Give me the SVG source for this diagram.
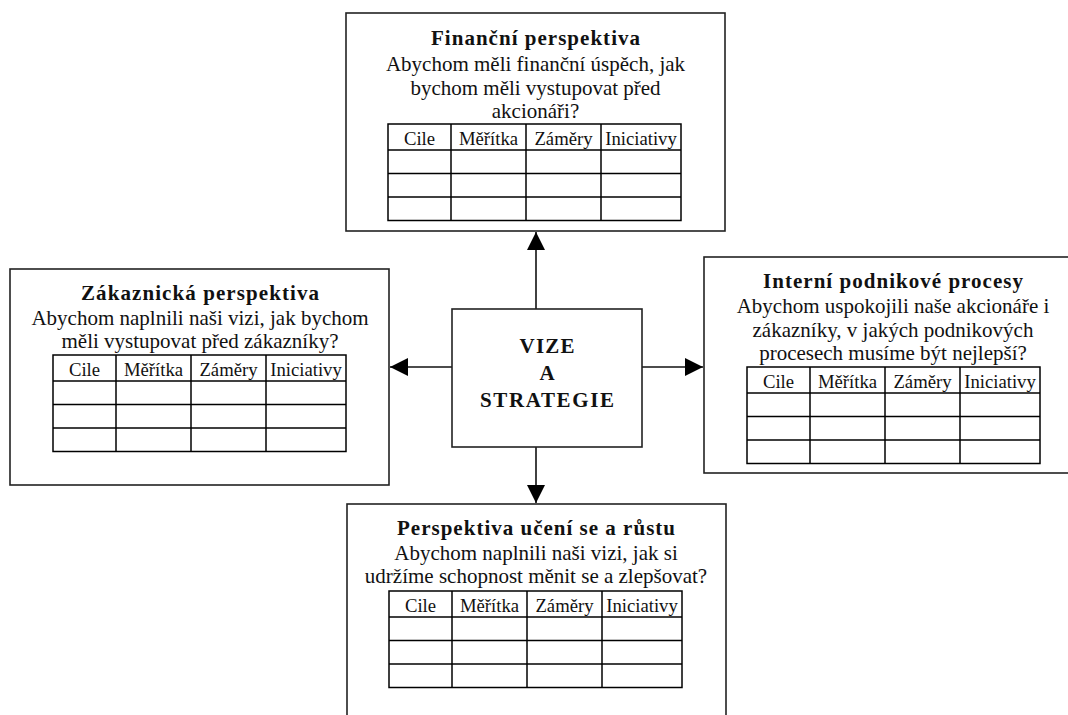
<svg xmlns="http://www.w3.org/2000/svg" width="1068" height="715" viewBox="0 0 1068 715">
  <style>
    .box { fill: #fff; stroke: #222; stroke-width: 1.6; }
    .tbl { fill: none; stroke: #000; stroke-width: 1.5; }
    .title { font-family: "Liberation Serif", "Times New Roman", serif; font-weight: bold; font-size: 21px; fill: #111; text-anchor: middle; }
    .body { font-family: "Liberation Serif", "Times New Roman", serif; font-size: 21px; fill: #111; text-anchor: middle; }
    .hdr { font-family: "Liberation Serif", "Times New Roman", serif; font-size: 18.7px; fill: #111; text-anchor: middle; }
    .conn { stroke: #111; stroke-width: 1.6; fill: none; marker-end: url(#arrow); }
  </style>
  <defs>
    <marker id="arrow" markerUnits="userSpaceOnUse" markerWidth="18" markerHeight="18" viewBox="0 0 18 18" refX="18" refY="9" orient="auto">
      <path d="M0,0 L18,9 L0,18 Z" fill="#000"/>
    </marker>
    <!-- four-column table: header row + three empty rows -->
    <g id="table">
      <rect class="tbl" x="0" y="0" width="293" height="96.5"/>
      <line class="tbl" x1="0" y1="26" x2="293" y2="26"/>
      <line class="tbl" x1="0" y1="49.5" x2="293" y2="49.5"/>
      <line class="tbl" x1="0" y1="73" x2="293" y2="73"/>
      <line class="tbl" x1="63" y1="0" x2="63" y2="96.5"/>
      <line class="tbl" x1="138" y1="0" x2="138" y2="96.5"/>
      <line class="tbl" x1="213" y1="0" x2="213" y2="96.5"/>
      <text class="hdr" x="31.5" y="20.5">Cile</text>
      <text class="hdr" x="100.5" y="20.5">Měřítka</text>
      <text class="hdr" x="175.5" y="20.5">Záměry</text>
      <text class="hdr" x="253" y="20.5">Iniciativy</text>
    </g>
  </defs>

  <!-- connectors from the centre box -->
  <g id="connectors">
    <line class="conn" x1="536" y1="309" x2="536" y2="232"/>
    <line class="conn" x1="536" y1="447" x2="536" y2="503"/>
    <line class="conn" x1="452" y1="367" x2="390" y2="367"/>
    <line class="conn" x1="642" y1="367" x2="703" y2="367"/>
  </g>

  <g id="financni">
    <rect class="box" x="346" y="13" width="379" height="218"/>
    <text class="title" x="535.5" y="45" textLength="209" lengthAdjust="spacing">Finanční perspektiva</text>
    <text class="body" x="535.5" y="71">Abychom měli finanční úspěch, jak</text>
    <text class="body" x="535.5" y="95">bychom měli vystupovat před</text>
    <text class="body" x="535.5" y="118">akcionáři?</text>
    <use href="#table" x="388" y="124"/>
  </g>

  <g id="zakaznicka">
    <rect class="box" x="10" y="269" width="379" height="216"/>
    <text class="title" x="200" y="300" textLength="238" lengthAdjust="spacing">Zákaznická perspektiva</text>
    <text class="body" x="200" y="325">Abychom naplnili naši vizi, jak bychom</text>
    <text class="body" x="200" y="348">měli vystupovat před zákazníky?</text>
    <use href="#table" x="53" y="355"/>
  </g>

  <g id="interni">
    <rect class="box" x="704" y="257" width="380" height="216"/>
    <text class="title" x="893" y="288" textLength="260" lengthAdjust="spacing">Interní podnikové procesy</text>
    <text class="body" x="893" y="313">Abychom uspokojili naše akcionáře i</text>
    <text class="body" x="893" y="337">zákazníky, v jakých podnikových</text>
    <text class="body" x="893" y="360">procesech musíme být nejlepší?</text>
    <use href="#table" x="747" y="367"/>
  </g>

  <g id="uceni">
    <rect class="box" x="347" y="504" width="379" height="230"/>
    <text class="title" x="536" y="535" textLength="278" lengthAdjust="spacing">Perspektiva učení se a růstu</text>
    <text class="body" x="536" y="560">Abychom naplnili naši vizi, jak si</text>
    <text class="body" x="536" y="583">udržíme schopnost měnit se a zlepšovat?</text>
    <use href="#table" x="389" y="591"/>
  </g>

  <g id="vize">
    <rect class="box" x="452" y="309" width="190" height="138"/>
    <text class="title" x="547" y="353" textLength="55" lengthAdjust="spacing">VIZE</text>
    <text class="title" x="547" y="380">A</text>
    <text class="title" x="547" y="407" textLength="134" lengthAdjust="spacing">STRATEGIE</text>
  </g>
</svg>
